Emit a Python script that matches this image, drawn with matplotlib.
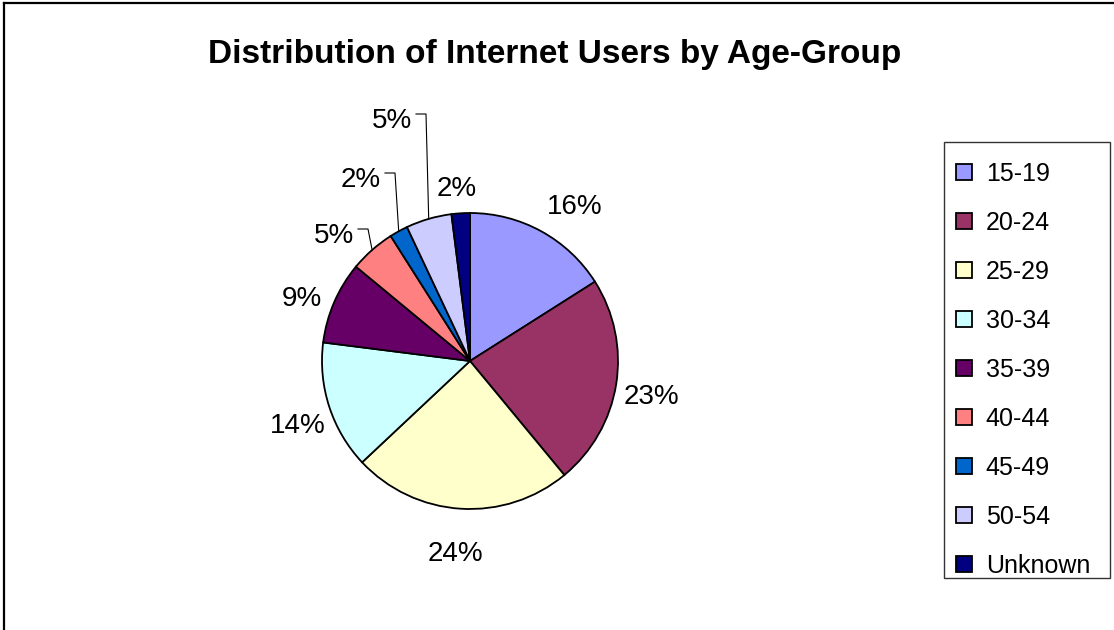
#!/usr/bin/env python3
"""Pie chart: distribution of internet users by age group."""
import matplotlib
matplotlib.use("Agg")
import matplotlib.pyplot as plt
import numpy as np
from matplotlib.lines import Line2D
from matplotlib.patches import Patch, Rectangle

W, H = 1114, 630

age_groups = ["15-19", "20-24", "25-29", "30-34", "35-39",
              "40-44", "45-49", "50-54", "Unknown"]
shares = [16, 23, 24, 14, 9, 5, 2, 5, 2]
colors = ["#9999FF", "#993366", "#FFFFCC", "#CCFFFF", "#660066",
          "#FF8080", "#0066CC", "#CCCCFF", "#000080"]

# label anchors (pixel x, baseline y from top), and which get leader lines
label_xy = [(575, 214), (651, 404), (455, 561), (298, 433), (302, 306),
            (334, 243), (361, 187), (392, 128), (457, 196)]
leader = [False, False, False, False, False, True, True, True, False]

CX, CY, R = 470, 361, 148

plt.rcParams["font.family"] = ["Liberation Sans", "DejaVu Sans"]

fig = plt.figure(figsize=(W / 100, H / 100), dpi=100)
ax = fig.add_axes([0, 0, 1, 1])

wedges, _ = ax.pie(shares, colors=colors, startangle=90, counterclock=False,
                   center=(CX, H - CY), radius=R,
                   wedgeprops=dict(edgecolor="black", linewidth=1.3))
ax.set_xlim(0, W)
ax.set_ylim(0, H)
ax.set_aspect("equal")
ax.axis("off")

for w, v, (lx, ly), lead in zip(wedges, shares, label_xy, leader):
    ax.text(lx, H - ly, f"{v}%", ha="center", va="baseline", fontsize=20)
    if lead:
        mid = np.deg2rad((w.theta1 + w.theta2) / 2)
        ex = CX + R * np.cos(mid)
        ey = (H - CY) + R * np.sin(mid)
        yl = H - (ly - 14)
        ax.plot([lx + 24, lx + 34, ex], [yl, yl, ey], color="black", lw=0.8)

ax.text(555, H - 63, "Distribution of Internet Users by Age-Group",
        ha="center", va="baseline", fontsize=24, fontweight="bold")

# legend box drawn separately so the entries can sit where needed
ax.add_patch(Rectangle((944, H - 578), 166, 436, facecolor="white",
                       edgecolor="#333333", linewidth=1.0, zorder=3))
handles = [Patch(facecolor=c, edgecolor="black", linewidth=1.3) for c in colors]
fig.legend(handles, age_groups, loc="upper left",
           bbox_to_anchor=(956 / W, 1 - 162 / H), borderaxespad=0,
           fontsize=18, handlelength=0.64, handleheight=0.64,
           handletextpad=0.55, labelspacing=1.0, borderpad=0.0,
           frameon=False)

# outer chart-area border, left and top edges
fig.add_artist(Line2D([4 / W, 4 / W], [0, 1 - 3 / H], color="black", lw=1.6,
                      transform=fig.transFigure))
fig.add_artist(Line2D([4 / W, 1], [1 - 3 / H, 1 - 3 / H], color="black",
                      lw=1.6, transform=fig.transFigure))

fig.savefig("out.png", dpi=100)
